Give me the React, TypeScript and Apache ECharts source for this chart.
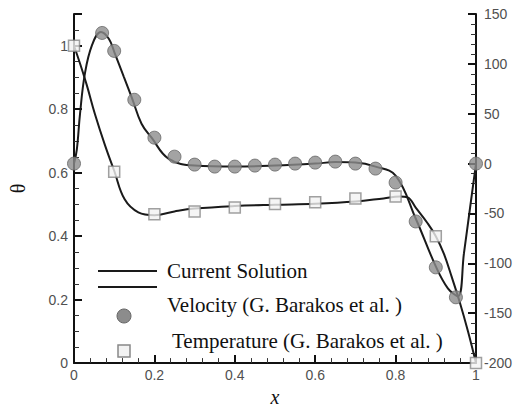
import React, { useEffect, useRef } from "react";
import * as echarts from "echarts";

// Temperature solution curve (left axis, θ)
const tempCurveX = [0, 0.016, 0.032, 0.052, 0.077, 0.1, 0.126, 0.16, 0.2, 0.25, 0.3, 0.4, 0.5, 0.6, 0.7, 0.77, 0.81, 0.83, 0.85, 0.88, 0.9, 0.92, 0.94, 0.96, 0.98, 1.0];
const tempCurveY = [1.0, 0.94, 0.875, 0.785, 0.687, 0.606, 0.516, 0.475, 0.466, 0.478, 0.487, 0.495, 0.499, 0.502, 0.509, 0.519, 0.525, 0.522, 0.49, 0.44, 0.4, 0.345, 0.27, 0.19, 0.1, 0.0];

// Velocity solution curve (right axis)
const velCurveX = [0, 0.007, 0.015, 0.027, 0.045, 0.067, 0.087, 0.101, 0.124, 0.144, 0.168, 0.193, 0.235, 0.3, 0.4, 0.5, 0.6, 0.65, 0.7, 0.75, 0.8, 0.85, 0.9, 0.93, 0.955, 0.97, 0.985, 1.0];
const velCurveY = [0, 14, 50, 90, 119, 132, 125, 111, 87, 66, 40, 26, 5, -2, -3, -2, 0, 1.5, 1, -3, -12, -55, -103, -125, -133, -90, -45, 0];

// Reference data (G. Barakos et al.)
const velPtsX = [0, 0.07, 0.1, 0.15, 0.2, 0.25, 0.3, 0.35, 0.4, 0.45, 0.5, 0.55, 0.6, 0.65, 0.7, 0.75, 0.8, 0.85, 0.9, 0.95, 1.0];
const velPtsY = [0, 131, 113, 64, 26, 7, -1, -3, -3, -2, -1, 0, 1, 2, 0, -5, -19, -58, -104, -134, 0];
const tempPtsX = [0, 0.1, 0.2, 0.3, 0.4, 0.5, 0.6, 0.7, 0.8, 0.9, 1.0];
const tempPtsY = [1.0, 0.603, 0.469, 0.478, 0.49, 0.501, 0.507, 0.519, 0.525, 0.4, 0.0];

const legendLabels = ["Current Solution", "Velocity (G. Barakos et al. )", "Temperature (G. Barakos et al. )"];

const zip = (xs: number[], ys: number[]) => xs.map((x, i) => [x, ys[i]]);

export default function App() {
  const ref = useRef<HTMLDivElement>(null);
  useEffect(() => {
    if (!ref.current) return;
    const chart = echarts.init(ref.current, null, { renderer: "svg" });
    const axisCommon = {
      axisLine: { show: true, lineStyle: { color: "#111", width: 2 } },
      axisTick: { show: true, inside: true, length: 8, lineStyle: { color: "#111", width: 2 } },
      minorTick: { show: true, length: 5, lineStyle: { color: "#333", width: 1 } },
      splitLine: { show: false },
      axisLabel: { color: "#505050", fontFamily: "Liberation Sans", fontSize: 14 },
    };
    const fmt = (v: number) => String(Math.round(v * 1000) / 1000);
    const serif = "Liberation Serif";
    chart.setOption({
      animation: false,
      grid: { left: 72, right: 44, top: 14, bottom: 29, containLabel: false },
      xAxis: {
        type: "value",
        min: 0,
        max: 1,
        interval: 0.2,
        ...axisCommon,
        minorTick: { ...axisCommon.minorTick, splitNumber: 5 },
        axisLabel: { ...axisCommon.axisLabel, margin: 5, formatter: fmt },
        name: "x",
        nameLocation: "middle",
        nameGap: 20,
        nameTextStyle: { fontFamily: serif, fontStyle: "italic", fontSize: 20, color: "#111" },
      },
      yAxis: [
        {
          type: "value",
          min: 0,
          max: 1.1,
          interval: 0.2,
          position: "left",
          ...axisCommon,
          minorTick: { ...axisCommon.minorTick, splitNumber: 4 },
          axisLabel: { ...axisCommon.axisLabel, margin: 6, showMaxLabel: false, formatter: fmt },
          name: "θ",
          nameLocation: "middle",
          nameRotate: 90,
          nameGap: 46,
          nameTextStyle: { fontFamily: serif, fontSize: 20, color: "#111" },
        },
        {
          type: "value",
          min: -200,
          max: 150,
          interval: 50,
          position: "right",
          ...axisCommon,
          minorTick: { ...axisCommon.minorTick, splitNumber: 5 },
          axisLabel: { ...axisCommon.axisLabel, margin: 8, formatter: fmt },
        },
      ],
      series: [
        {
          type: "line",
          yAxisIndex: 0,
          data: zip(tempCurveX, tempCurveY),
          smooth: 0.4,
          showSymbol: false,
          symbol: "none",
          lineStyle: { color: "#1a1a1a", width: 2 },
          z: 2,
        },
        {
          type: "line",
          yAxisIndex: 1,
          data: zip(velCurveX, velCurveY),
          smooth: 0.4,
          showSymbol: false,
          symbol: "none",
          lineStyle: { color: "#1a1a1a", width: 2 },
          z: 2,
        },
        {
          type: "scatter",
          yAxisIndex: 1,
          data: zip(velPtsX, velPtsY),
          symbol: "circle",
          symbolSize: 13,
          itemStyle: { color: "#8c8c8c", borderColor: "#666", borderWidth: 1 },
          z: 3,
        },
        {
          type: "scatter",
          yAxisIndex: 0,
          data: zip(tempPtsX, tempPtsY),
          symbol: "rect",
          symbolSize: 11,
          itemStyle: { color: "#f2f2f2", borderColor: "#888", borderWidth: 1.5 },
          z: 3,
        },
      ],
      graphic: [
        { type: "line", shape: { x1: 98, y1: 271, x2: 157, y2: 271 }, style: { stroke: "#1a1a1a", lineWidth: 2 } },
        { type: "line", shape: { x1: 98, y1: 287, x2: 157, y2: 287 }, style: { stroke: "#1a1a1a", lineWidth: 2 } },
        { type: "circle", shape: { cx: 124, cy: 316, r: 7 }, style: { fill: "#8c8c8c", stroke: "#666", lineWidth: 1 } },
        { type: "rect", shape: { x: 118, y: 345, width: 12, height: 12 }, style: { fill: "#f2f2f2", stroke: "#888", lineWidth: 1.5 } },
        { type: "text", x: 167, y: 271, style: { text: legendLabels[0], font: `21px "${serif}"`, fill: "#111", textVerticalAlign: "middle", verticalAlign: "middle" } },
        { type: "text", x: 167, y: 305, style: { text: legendLabels[1], font: `21px "${serif}"`, fill: "#111", textVerticalAlign: "middle", verticalAlign: "middle" } },
        { type: "text", x: 172, y: 341, style: { text: legendLabels[2], font: `21px "${serif}"`, fill: "#111", textVerticalAlign: "middle", verticalAlign: "middle" } },
      ],
    });
    return () => chart.dispose();
  }, []);
  return <div ref={ref} style={{ position: "fixed", left: 0, top: 0, width: 520, height: 412, background: "#fff" }} />;
}
